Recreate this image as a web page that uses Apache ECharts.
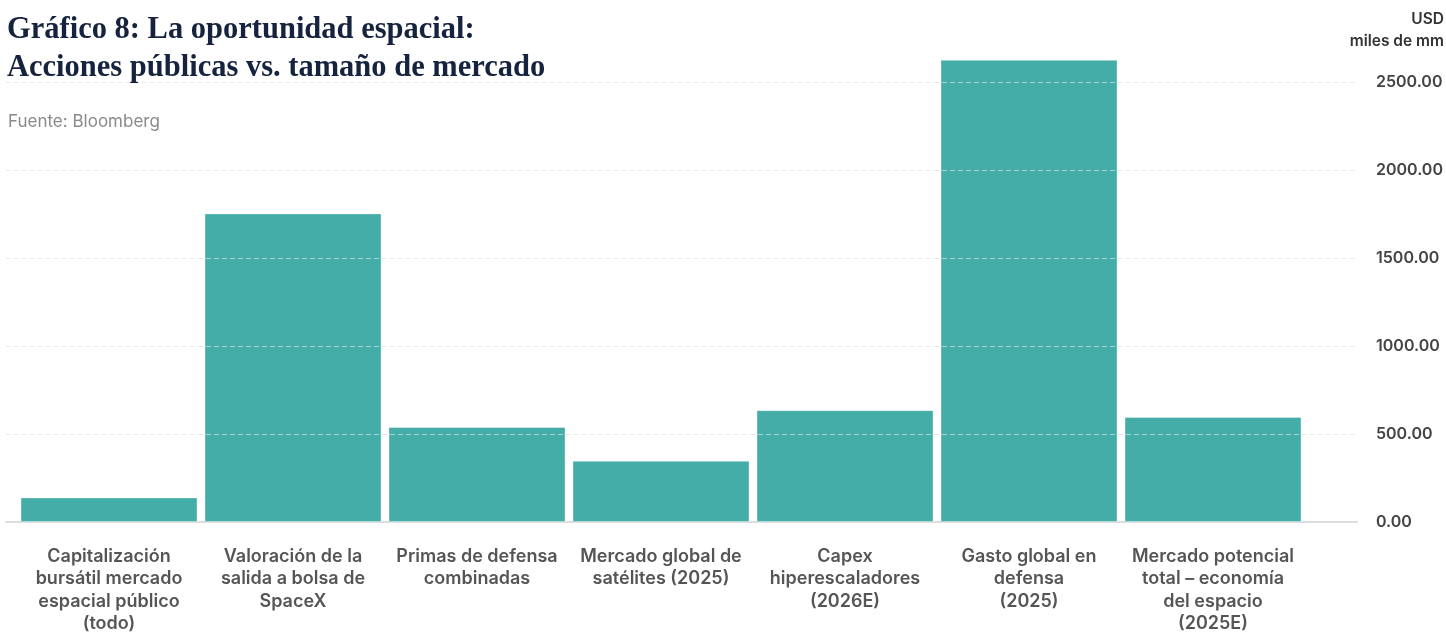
<!DOCTYPE html>
<html>
<head>
<meta charset="utf-8">
<script src="https://cdn.jsdelivr.net/npm/echarts@6/dist/echarts.min.js"></script>
<style>
  html, body { margin: 0; padding: 0; background: #fff; }
  #chart { width: 1446px; height: 632px; }
</style>
</head>
<body>
<div id="chart"></div>
<script>
// 数据
var categories = [
  'Capitalización\nbursátil mercado\nespacial público\n(todo)',
  'Valoración de la\nsalida a bolsa de\nSpaceX',
  'Primas de defensa\ncombinadas',
  'Mercado global de\nsatélites (2025)',
  'Capex\nhiperescaladores\n(2026E)',
  'Gasto global en\ndefensa\n(2025)',
  'Mercado potencial\ntotal – economía\ndel espacio\n(2025E)'
];
var values = [140, 1755, 540, 348, 636, 2628, 597];
var yTicks = [0, 500, 1000, 1500, 2000, 2500];

var myChart = echarts.init(document.getElementById('chart'));
// 右上角单位文字样式
var unitStyle = {
  fontFamily: 'Inter',
  fontWeight: 600,
  fontSize: 15.5,
  color: '#333'
};
var option = {
  animation: false,
  title: [
    {
      text: 'Gráfico 8: La oportunidad espacial:\nAcciones públicas vs. tamaño de mercado',
      left: 7,
      top: 11,
      padding: 0,
      textStyle: {
        fontFamily: 'Liberation Serif',
        fontWeight: 'bold',
        fontSize: 30.5,
        lineHeight: 38,
        color: '#16233f'
      }
    },
    {
      text: 'Fuente: Bloomberg',
      left: 8,
      top: 113,
      padding: 0,
      textStyle: {
        fontFamily: 'Inter',
        fontWeight: 'normal',
        fontSize: 17,
        color: '#8a8a8a'
      }
    },
    { text: 'USD', right: 2, top: 11, padding: 0, textStyle: unitStyle },
    { text: 'miles de mm', right: 2, top: 33, padding: 0, textStyle: unitStyle }
  ],
  grid: [
    // 柱子区域
    { left: 17, right: 141, top: 56, bottom: 110, outerBoundsMode: 'none' },
    // 网格线和坐标轴区域
    { left: 6, right: 89, top: 82, bottom: 110, outerBoundsMode: 'none' }
  ],
  xAxis: [
    {
      type: 'category',
      gridIndex: 0,
      data: categories,
      axisLine: { show: false },
      axisTick: { show: false },
      axisLabel: {
        interval: 0,
        margin: 23,
        fontFamily: 'Inter',
        fontWeight: 600,
        fontSize: 18,
        lineHeight: 22.5,
        color: '#555'
      }
    },
    {
      type: 'value',
      gridIndex: 1,
      min: 0,
      max: 1,
      axisLine: { show: true, lineStyle: { color: '#dcdcdc', width: 2 } },
      axisTick: { show: false },
      axisLabel: { show: false },
      splitLine: { show: false }
    }
  ],
  yAxis: [
    {
      type: 'value',
      gridIndex: 0,
      min: 0,
      max: 2650,
      show: false
    },
    {
      type: 'value',
      gridIndex: 1,
      position: 'right',
      min: 0,
      max: 2500,
      interval: 500,
      z: 5,
      axisLine: { show: false },
      axisTick: { show: false },
      axisLabel: {
        margin: 19,
        align: 'left',
        padding: [0, 0, 8, 0],
        fontFamily: 'Inter',
        fontWeight: 600,
        fontSize: 16,
        color: '#444',
        formatter: function (v) {
          return yTicks.indexOf(v) >= 0 ? v.toFixed(2) : '';
        }
      },
      splitLine: {
        show: true,
        lineStyle: { color: 'rgba(225,225,225,0.7)', type: [5, 3], width: 1 }
      }
    }
  ],
  series: [
    {
      type: 'bar',
      xAxisIndex: 0,
      yAxisIndex: 0,
      data: values,
      barWidth: 177,
      itemStyle: {
        color: '#45ada8',
        borderColor: 'rgba(255,255,255,0.35)',
        borderWidth: 1
      }
    }
  ]
};
myChart.setOption(option);
window.addEventListener('resize', function () {
  myChart.resize();
});
</script>
</body>
</html>
